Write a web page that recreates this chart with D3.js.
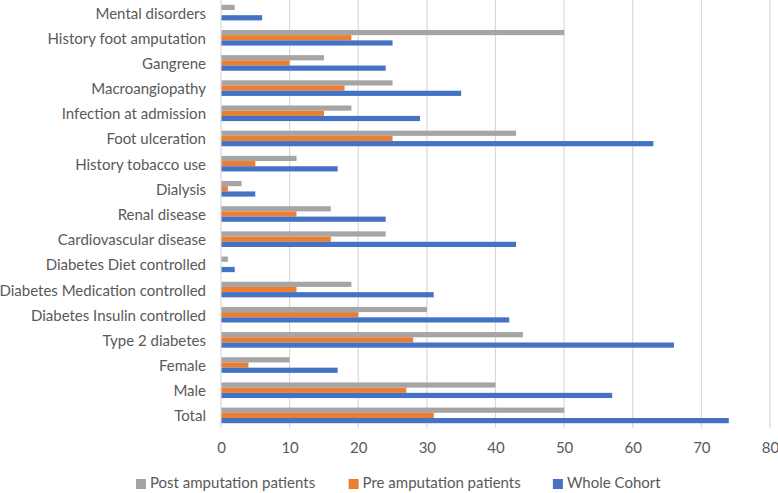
<!DOCTYPE html>
<html>
<head>
<meta charset="utf-8">
<script src="https://cdn.jsdelivr.net/npm/d3@7"></script>
<style>
  html, body { margin: 0; padding: 0; background: #ffffff; }
  svg { display: block; }
  text { font-family: Lato, "Open Sans", sans-serif; fill: #595959; }
</style>
</head>
<body>
<svg id="chart" width="778" height="493"></svg>
<script>
const categories = [
  "Mental disorders",
  "History foot amputation",
  "Gangrene",
  "Macroangiopathy",
  "Infection at admission",
  "Foot ulceration",
  "History tobacco use",
  "Dialysis",
  "Renal disease",
  "Cardiovascular disease",
  "Diabetes Diet controlled",
  "Diabetes Medication controlled",
  "Diabetes Insulin controlled",
  "Type 2 diabetes",
  "Female",
  "Male",
  "Total"
];
const seriesNames = ["Post amputation patients", "Pre amputation patients", "Whole Cohort"];
const postAmputation = [2, 50, 15, 25, 19, 43, 11, 3, 16, 24, 1, 19, 30, 44, 10, 40, 50];
const preAmputation  = [0, 19, 10, 18, 15, 25, 5, 1, 11, 16, 0, 11, 20, 28, 4, 27, 31];
const wholeCohort    = [6, 25, 24, 35, 29, 63, 17, 5, 24, 43, 2, 31, 42, 66, 17, 57, 74];
const xTicks = [0, 10, 20, 30, 40, 50, 60, 70, 80];
const colors = ["#A5A5A5", "#ED7D31", "#4472C4"];

const svg = d3.select("#chart");
const margin = { left: 221, top: 0 };
const plotW = 549, plotH = 428;
const g = svg.append("g").attr("transform", `translate(${margin.left},${margin.top})`);

const x = d3.scaleLinear().domain([0, 80]).range([0, plotW]);
const y = d3.scaleBand().domain(categories).range([0, plotH]).paddingInner(0.38).paddingOuter(0.19);
const ySub = d3.scaleBand().domain(seriesNames).range([0, y.bandwidth()]);

// gridlines
g.append("g").selectAll("line").data(xTicks.filter(d => d > 0)).join("line")
  .attr("x1", d => x(d)).attr("x2", d => x(d))
  .attr("y1", 0).attr("y2", plotH)
  .attr("stroke", "#D9D9D9").attr("stroke-width", 1.2);

const seriesData = [postAmputation, preAmputation, wholeCohort];
seriesNames.forEach((s, si) => {
  g.append("g").selectAll("rect").data(categories).join("rect")
    .attr("x", x(0))
    .attr("y", (c) => y(c) + ySub(s))
    .attr("width", (c, i) => x(seriesData[si][i]) - x(0))
    .attr("height", ySub.bandwidth())
    .attr("fill", colors[si]);
});

// category axis line
g.append("line").attr("x1", 0).attr("x2", 0).attr("y1", 0).attr("y2", plotH)
  .attr("stroke", "#D9D9D9").attr("stroke-width", 1.2);

// category labels
g.append("g").selectAll("text").data(categories).join("text")
  .attr("x", -15)
  .attr("y", c => y(c) + y.bandwidth() / 2)
  .attr("text-anchor", "end")
  .attr("dominant-baseline", "central")
  .style("font-size", "15px")
  .text(c => c);

// x tick labels
const xAxis = g.append("g").attr("transform", `translate(0,${plotH})`)
  .call(d3.axisBottom(x).tickValues(xTicks).tickSize(0).tickPadding(14));
xAxis.select(".domain").remove();
xAxis.selectAll("text").style("font-size", "15px").style("font-family", "Lato, sans-serif").attr("fill", "#595959");

// legend
const legendX = [136, 348.6, 552.9];
const legend = svg.append("g").attr("transform", "translate(0,482)");
seriesNames.forEach((s, i) => {
  legend.append("rect").attr("x", legendX[i]).attr("y", -3).attr("width", 10).attr("height", 10).attr("fill", colors[i]);
  legend.append("text").attr("x", legendX[i] + 14).attr("y", 0)
    .attr("dominant-baseline", "central").style("font-size", "15px").text(s);
});
</script>
</body>
</html>
